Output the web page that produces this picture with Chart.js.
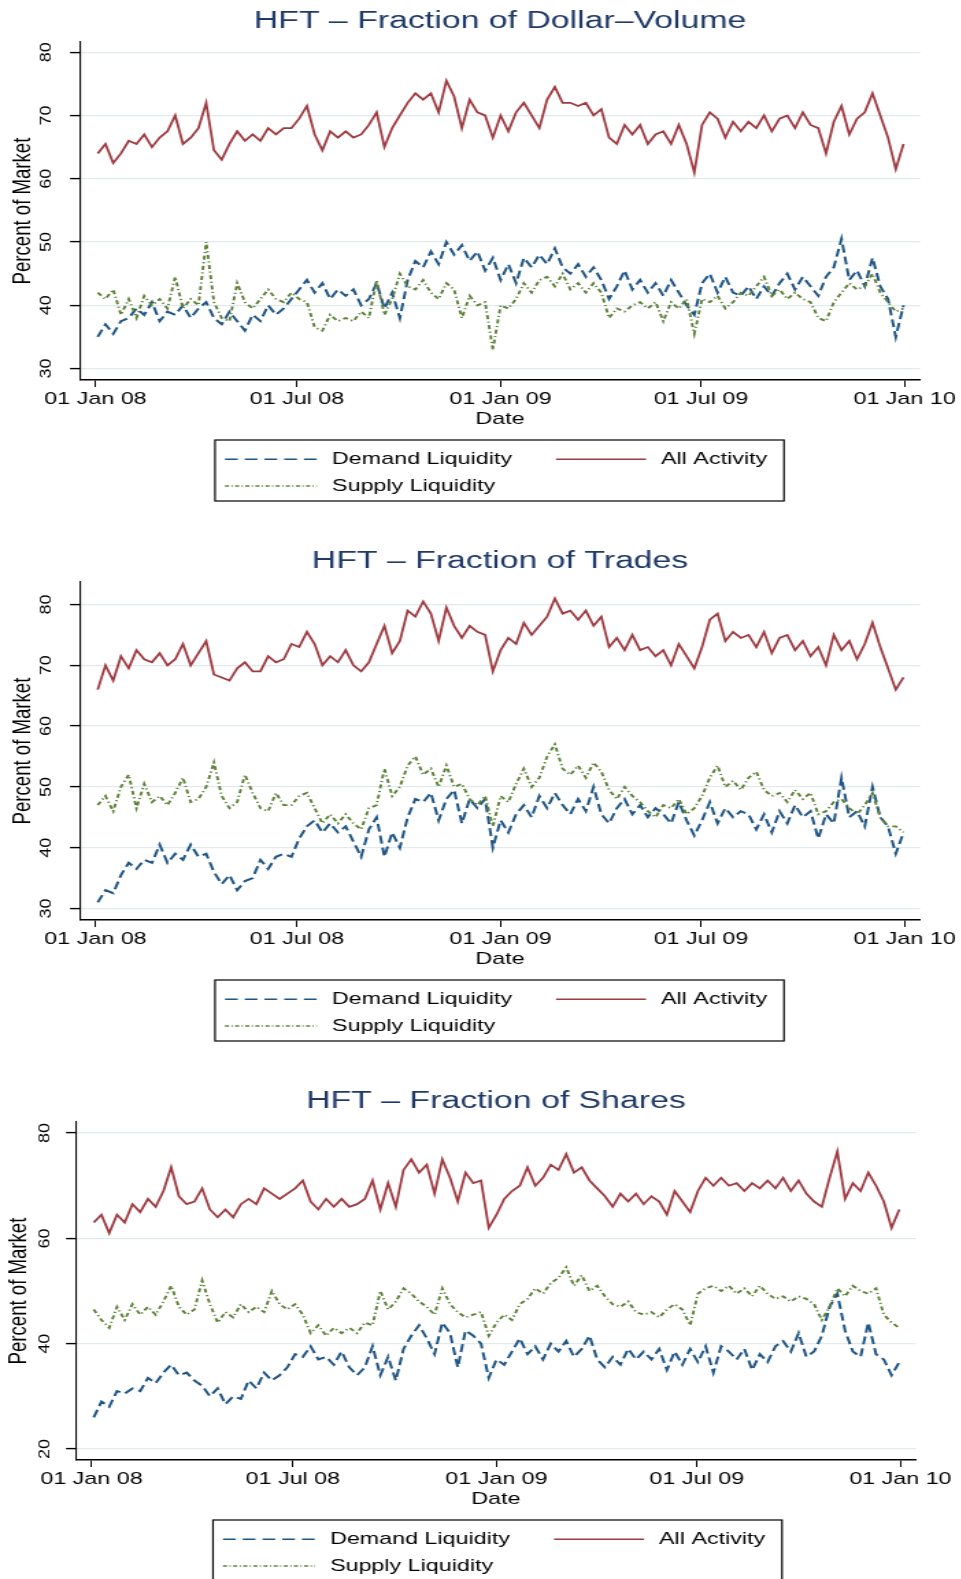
<!DOCTYPE html>
<html>
<head>
<meta charset="utf-8">
<title>HFT fractions</title>
<script src="https://cdn.jsdelivr.net/npm/chart.js@4.4.1/dist/chart.umd.min.js"></script>
<style>
  html, body { margin: 0; padding: 0; background: #fff; overflow: hidden; width: 961px; height: 1579px; }
  .panel { position: absolute; left: 0; transform-origin: 0 0; }
</style>
</head>
<body>
<div class="panel" id="wrap1"><canvas id="chart1"></canvas></div>
<div class="panel" id="wrap2"><canvas id="chart2"></canvas></div>
<div class="panel" id="wrap3"><canvas id="chart3"></canvas></div>
<script>
// Stata draws its text wide, so each panel is drawn narrow and stretched sideways by S
const S = 1.37;

// x axis: days counted from 01 Jan 2008
const X_TICK_DAYS = [0, 182, 366, 547, 731];
const X_TICK_LABELS = ['01 Jan 08', '01 Jul 08', '01 Jan 09', '01 Jul 09', '01 Jan 10'];

// one reading per week (day number since 01 Jan 2008)
const WEEK_DAYS = [2, 9, 16, 23, 30, 37, 44, 51, 58, 65, 72, 79, 86, 93, 100, 107, 114, 121, 128, 135,
  142, 149, 156, 163, 170, 177, 184, 191, 198, 205, 212, 219, 226, 233, 240, 247, 254, 261, 268, 275,
  282, 289, 296, 303, 310, 317, 324, 331, 338, 345, 352, 359, 366, 373, 380, 387, 394, 401, 408, 415,
  422, 429, 436, 443, 450, 457, 464, 471, 478, 485, 492, 499, 506, 513, 520, 527, 534, 541, 548, 555,
  562, 569, 576, 583, 590, 597, 604, 611, 618, 625, 632, 639, 646, 653, 660, 667, 674, 681, 688, 695,
  702, 709, 716, 723, 730];

const SERIES_LABELS = ['Demand Liquidity', 'All Activity', 'Supply Liquidity'];

// Panel 1: fraction of dollar-volume
const P1_TICKS = [30, 40, 50, 60, 70, 80];
const P1_ALL = [64, 65.5, 62.5, 64, 66, 65.5, 67, 65, 66.5, 67.5, 70, 65.5, 66.5, 68, 72, 64.5, 63, 65.5, 67.5, 66,
  67, 66, 68, 67, 68, 68, 69.5, 71.5, 67, 64.5, 67.5, 66.5, 67.5, 66.5, 67, 68.5, 70.5, 65, 68, 70,
  72, 73.5, 72.5, 73.5, 70.5, 75.5, 73, 68, 72.5, 70.5, 70, 66.5, 70, 67.5, 70.5, 72, 70, 68, 72.5, 74.5,
  72, 72, 71.5, 72, 70, 71, 66.5, 65.5, 68.5, 67, 68.5, 65.5, 67, 67.5, 65.5, 68.5, 65.5, 61, 68.5, 70.5,
  69.5, 66.5, 69, 67.5, 69, 68, 70, 67.5, 69.5, 70, 68, 70.5, 68.5, 68, 64, 69, 71.5, 67, 69.5, 70.5,
  73.5, 70, 66.5, 61.5, 65.5];
const P1_DEMAND = [35, 37, 35.5, 37.5, 38, 39.5, 38.5, 40.5, 37.5, 39, 38.5, 40, 38, 39.5, 40.5, 38, 37, 39, 37.5, 36,
  38.5, 37.5, 40, 38.5, 39.5, 41, 42.5, 44, 42, 43.5, 41, 42.5, 41.5, 42.5, 40, 41, 43.5, 39.5, 42, 38,
  44, 47, 46, 48.5, 46.5, 50, 48, 49.5, 47, 48.5, 45.5, 47.5, 44, 46.5, 43.5, 47.5, 46, 48, 46.5, 49,
  46, 45, 46.5, 44.5, 46, 44, 41, 43, 45.5, 42.5, 44, 42, 43.5, 41.5, 44, 42, 40, 38.5, 43.5, 45,
  42, 44.5, 42, 41.5, 43, 41, 43, 41.5, 43.5, 45, 42.5, 44.5, 43, 41.5, 44.5, 46, 50.5, 44, 45.5, 43,
  47.5, 43, 41, 35, 40];
const P1_SUPPLY = [42, 41, 42.5, 38.5, 41, 38, 41.5, 40, 41, 39.5, 44.5, 39.5, 41, 40, 50, 40.5, 38, 37.5, 43.5, 40.5,
  39.5, 41, 42.5, 41, 40.5, 42, 41, 40.5, 36.5, 36, 38.5, 37.5, 38, 37.5, 39, 38, 44, 38.5, 41, 45,
  43, 42.5, 44, 42, 41, 43.5, 42.5, 38, 41.5, 40, 40.5, 33, 40, 39.5, 41, 43.5, 42, 44, 44.5, 43,
  45, 42.5, 43.5, 42, 43.5, 42, 38, 39.5, 39, 40, 40.5, 39.5, 40.5, 37.5, 40.5, 39.5, 41, 35.5, 41, 40.5,
  41.5, 39.5, 40.5, 42, 41.5, 43, 44.5, 41.5, 42.5, 41, 42, 41, 40.5, 38, 37.5, 40.5, 42, 43.5, 42.5, 43,
  45, 42, 40.5, 39, 39.5];

// Panel 2: fraction of trades
const P2_TICKS = [30, 40, 50, 60, 70, 80];
const P2_ALL = [66, 70, 67.5, 71.5, 69.5, 72.5, 71, 70.5, 72, 70, 71, 73.5, 70, 72, 74, 68.5, 68, 67.5, 69.5, 70.5,
  69, 69, 71.5, 70.5, 71, 73.5, 73, 75.5, 73.5, 70, 71.5, 70.5, 72.5, 70, 69, 70.5, 73.5, 76.5, 72, 74,
  79, 78, 80.5, 78.5, 74, 79.5, 76.5, 74.5, 76.5, 75.5, 75, 69, 72.5, 74.5, 73.5, 77, 75, 76.5, 78, 81,
  78.5, 79, 77.5, 79, 76.5, 78, 73, 74.5, 72.5, 75, 72.5, 73, 71.5, 72.5, 70, 73.5, 71.5, 69.5, 73, 77.5,
  78.5, 74, 75.5, 74.5, 75, 73, 75.5, 72, 74.5, 75, 72.5, 74, 71.5, 73, 70, 75, 72.5, 74, 71, 73.5,
  77, 73, 69.5, 66, 68];
const P2_DEMAND = [31, 33, 32.5, 35.5, 37.5, 36.5, 38, 37.5, 40.5, 37.5, 39, 38, 40.5, 38.5, 39, 36, 34, 35.5, 33, 34.5,
  35, 38, 36.5, 38.5, 39, 38.5, 41.5, 43.5, 44.5, 42.5, 44, 42.5, 43.5, 41, 38.5, 43, 45, 38.5, 42.5, 40,
  45, 48, 47.5, 49, 44.5, 48, 49.5, 44, 48, 46.5, 48, 40, 44.5, 42.5, 45.5, 47, 45, 48.5, 46.5, 49,
  47, 45.5, 48, 46, 50, 45.5, 44, 46.5, 48, 45.5, 47, 45, 46.5, 45.5, 44, 47.5, 44.5, 42, 44.5, 47.5,
  44, 46.5, 45, 46, 45.5, 43, 45.5, 42.5, 46, 44, 47, 45, 46, 41.5, 45.5, 44, 51.5, 45, 46, 43.5,
  50, 45, 43.5, 39, 42.5];
const P2_SUPPLY = [47, 48.5, 46, 50, 52, 46.5, 50.5, 47.5, 48.5, 47, 49, 51.5, 47.5, 48, 50, 54, 48.5, 46.5, 47.5, 52,
  49, 46.5, 46, 49, 47, 47, 48.5, 49, 46.5, 44, 45.5, 44, 45.5, 44, 43, 46.5, 47, 53, 48.5, 50,
  53.5, 55, 52, 53, 50, 53.5, 50, 50.5, 48, 47, 48.5, 43.5, 48.5, 47.5, 50.5, 53, 50, 51.5, 55, 57,
  53, 52, 53.5, 51.5, 54, 52.5, 49.5, 48, 50, 48.5, 47.5, 46, 45, 47, 46.5, 48, 45.5, 46.5, 48.5, 51.5,
  53.5, 50, 51, 49.5, 51.5, 52.5, 49.5, 48.5, 49, 47.5, 49.5, 48, 49, 45.5, 46, 47.5, 48, 46.5, 45.5, 47,
  49, 45, 43.5, 43.5, 42.5];

// Panel 3: fraction of shares
const P3_TICKS = [20, 40, 60, 80];
const P3_ALL = [63, 64.5, 61, 64.5, 63, 66.5, 65, 67.5, 66, 69, 73.5, 68, 66.5, 67, 69.5, 65.5, 64, 65.5, 64, 66.5,
  67.5, 66.5, 69.5, 68.5, 67.5, 68.5, 69.5, 71, 67, 65.5, 67.5, 66, 67.5, 66, 66.5, 67.5, 71, 65.5, 70.5, 66,
  73, 75, 72.5, 74, 68.5, 75, 71.5, 67, 72.5, 70.5, 71, 62, 64.5, 67.5, 69, 70, 73.5, 70, 71.5, 74,
  73, 76, 72.5, 73.5, 71, 69.5, 68, 66, 68.5, 67, 68.5, 66.5, 68, 67, 64.5, 69, 67, 65, 69, 71.5,
  70, 71.5, 70, 70.5, 69, 70.5, 69.5, 71, 69.5, 71.5, 69, 71, 68.5, 67, 66, 71.5, 76.5, 67.5, 70.5, 69,
  72.5, 70, 67, 62, 65.5];
const P3_DEMAND = [26, 29, 28, 31, 30.5, 31.5, 31, 33.5, 32.5, 34.5, 36, 34, 34.5, 33, 32, 30, 31.5, 28.5, 30, 29.5,
  33, 31.5, 34.5, 33, 34, 35.5, 38, 37.5, 39.5, 37, 37.5, 36, 38.5, 35.5, 34, 35.5, 39.5, 34, 37.5, 33,
  39, 41.5, 43.5, 41, 38, 44, 42, 35.5, 42.5, 41.5, 40, 33.5, 37, 36, 38.5, 41, 38, 39.5, 37, 40,
  38.5, 40.5, 37.5, 39, 41.5, 37, 35.5, 37.5, 36, 39, 37, 38.5, 37, 39, 35, 38.5, 36, 39, 36.5, 39.5,
  34.5, 39.5, 38.5, 37, 39, 35, 38, 36.5, 39.5, 40.5, 38.5, 42, 37.5, 38.5, 41.5, 47, 49.5, 42.5, 38.5, 37.5,
  44, 38, 37, 34, 36.5];
const P3_SUPPLY = [46.5, 44.5, 43, 47, 44.5, 47.5, 45.5, 47, 45.5, 48, 51, 47, 45.5, 46.5, 52, 47.5, 44, 46, 45, 47.5,
  46, 47, 46, 50, 47.5, 46.5, 47.5, 45.5, 42, 43.5, 41.5, 43, 42, 43, 42, 44, 43.5, 50, 46.5, 48,
  50.5, 49.5, 48, 47, 45.5, 50.5, 47.5, 46, 45, 45.5, 46, 41.5, 44, 45.5, 44.5, 47.5, 48.5, 50.5, 49.5, 51.5,
  52.5, 54.5, 51, 53, 50, 51, 49, 47.5, 47, 48, 46, 45.5, 46, 45, 46.5, 47.5, 46.5, 43.5, 49.5, 50.5,
  51, 50, 51, 49.5, 50.5, 49, 51, 49.5, 48.5, 49, 48, 49, 48.5, 47.5, 44.5, 47, 50.5, 49, 51, 50,
  49.5, 50.5, 45.5, 44, 43];

const FONT = '"Liberation Sans", Arial, Helvetica, sans-serif';
const BLUE = '#1e5585';
const RED = '#9e3a40';
const GREEN = '#5b8135';
const TITLE_COLOR = '#1f3a68';
const GRID_COLOR = '#e1ebee';

Chart.defaults.font.family = FONT;
Chart.defaults.color = '#000';

// legend layout in page pixels, measured from the left edge of the legend box
const LEGEND_SLOTS = [
  { ds: 0, from: 10, to: 102, text: 117, row: 0 },
  { ds: 1, from: 341, to: 431, text: 446, row: 0 },
  { ds: 2, from: 10, to: 102, text: 117, row: 1 }
];
const LEGEND_ROWS = [19.3, 46];

// rotated y tick labels and the boxed legend
const stataDecor = {
  id: 'stataDecor',
  afterDraw(chart, args, opts) {
    const { ctx, chartArea } = chart;
    const yScale = chart.scales.y;
    ctx.save();
    ctx.fillStyle = '#000';
    ctx.font = '18px ' + FONT;
    ctx.textAlign = 'center';
    ctx.textBaseline = 'middle';
    yScale.ticks.forEach(t => {
      ctx.save();
      ctx.translate(opts.yLabelX / S, yScale.getPixelForValue(t.value));
      ctx.scale(0.64, 1);
      ctx.rotate(-Math.PI / 2);
      ctx.fillText(String(t.value), 0, 0);
      ctx.restore();
    });

    const top = chartArea.bottom + 60;
    const left = opts.legendLeft;
    ctx.strokeStyle = '#000';
    ctx.lineWidth = 1.2;
    ctx.strokeRect(left / S, top, 569 / S, 61);

    ctx.font = '17px ' + FONT;
    ctx.textAlign = 'left';
    LEGEND_SLOTS.forEach(slot => {
      const ds = chart.data.datasets[slot.ds];
      const y = top + LEGEND_ROWS[slot.row];
      ctx.save();
      ctx.strokeStyle = ds.borderColor;
      ctx.lineWidth = 1.6;
      ctx.setLineDash(ds.legendDash);
      ctx.beginPath();
      ctx.moveTo((left + slot.from) / S, y);
      ctx.lineTo((left + slot.to) / S, y);
      ctx.stroke();
      ctx.restore();
      ctx.fillText(ds.label, (left + slot.text) / S, y);
    });
    ctx.restore();
  }
};

const panels = [
  { wrap: 'wrap1', canvas: 'chart1', top: 0, height: 540, title: 'HFT – Fraction of Dollar–Volume',
    plotLeft: 80, plotRight: 920, yMin: 28.2, yMax: 81.6, yTicks: P1_TICKS,
    demand: P1_DEMAND, all: P1_ALL, supply: P1_SUPPLY, yLabelX: 45.7, yTitleX: 22.8, legendLeft: 215 },
  { wrap: 'wrap2', canvas: 'chart2', top: 540, height: 540, title: 'HFT – Fraction of Trades',
    plotLeft: 80, plotRight: 920, yMin: 28.1, yMax: 83.7, yTicks: P2_TICKS,
    demand: P2_DEMAND, all: P2_ALL, supply: P2_SUPPLY, yLabelX: 45.7, yTitleX: 22.8, legendLeft: 215 },
  { wrap: 'wrap3', canvas: 'chart3', top: 1080, height: 499, title: 'HFT – Fraction of Shares',
    plotLeft: 76, plotRight: 916, yMin: 17.9, yMax: 82.1, yTicks: P3_TICKS,
    demand: P3_DEMAND, all: P3_ALL, supply: P3_SUPPLY, yLabelX: 44.7, yTitleX: 18.8, legendLeft: 213 }
];

function toPoints(values) {
  return WEEK_DAYS.map((d, i) => ({ x: d, y: values[i] }));
}

function buildPanel(p) {
  const width = Math.round((p.plotLeft + p.plotRight) / S);
  const wrap = document.getElementById(p.wrap);
  wrap.style.top = p.top + 'px';
  wrap.style.width = width + 'px';
  wrap.style.height = p.height + 'px';
  wrap.style.transform = 'scaleX(' + S + ')';
  const axisWidth = p.plotLeft / S;

  return new Chart(document.getElementById(p.canvas), {
    type: 'line',
    data: {
      datasets: [
        { label: SERIES_LABELS[0], data: toPoints(p.demand), borderColor: BLUE, borderWidth: 2,
          borderDash: [8, 4], legendDash: [9.3, 5.1], order: 2 },
        { label: SERIES_LABELS[1], data: toPoints(p.all), borderColor: RED, borderWidth: 1.8,
          legendDash: [], order: 1 },
        { label: SERIES_LABELS[2], data: toPoints(p.supply), borderColor: GREEN, borderWidth: 1.9,
          borderDash: [4, 2.5, 1.2, 2.5], legendDash: [2.9, 1.8, 0.9, 1.8], order: 0 }
      ]
    },
    options: {
      responsive: true,
      maintainAspectRatio: false,
      animation: false,
      events: [],
      elements: { point: { radius: 0 }, line: { tension: 0, fill: false } },
      layout: { padding: { left: 0, right: 0, top: 0, bottom: p.height - 430 } },
      plugins: {
        legend: { display: false },
        tooltip: { enabled: false },
        title: {
          display: true, text: p.title, color: TITLE_COLOR,
          font: { size: 24.7, weight: 'normal' }, padding: { top: 6.2, bottom: 6.2 }
        },
        stataDecor: { yLabelX: p.yLabelX, legendLeft: p.legendLeft }
      },
      scales: {
        x: {
          type: 'linear', min: -14, max: 745,
          afterBuildTicks: s => { s.ticks = X_TICK_DAYS.map(v => ({ value: v })); },
          afterFit: s => { s.height = 50; },
          ticks: {
            autoSkip: false, maxRotation: 0, padding: 2, color: '#000', font: { size: 17 },
            callback: (v, i) => X_TICK_LABELS[i]
          },
          grid: { drawOnChartArea: false, drawTicks: true, tickLength: 7, tickColor: '#000', tickWidth: 1 },
          border: { display: true, color: '#000', width: 1.5 },
          title: { display: true, text: 'Date', color: '#000', font: { size: 17 }, padding: 0 }
        },
        y: {
          type: 'linear', position: 'left', min: p.yMin, max: p.yMax,
          afterBuildTicks: s => { s.ticks = p.yTicks.map(v => ({ value: v })); },
          afterFit: s => { s.width = axisWidth; },
          ticks: { display: false },
          grid: { color: GRID_COLOR, lineWidth: 1.2, drawTicks: true, tickLength: 10 / S, tickColor: '#000', tickWidth: 1.4 },
          border: { display: true, color: '#000', width: 1.5 / S },
          title: {
            display: true, text: 'Percent of Market', color: '#000', font: { size: 18.6 },
            padding: { top: p.yTitleX / S - 11.16, bottom: 0 }
          }
        },
        // empty axis on the right keeps the plot centred under the title
        yRight: {
          type: 'linear', position: 'right', display: true,
          afterFit: s => { s.width = axisWidth; },
          ticks: { display: false },
          grid: { display: false, drawTicks: false },
          border: { display: false }
        }
      }
    },
    plugins: [stataDecor]
  });
}

panels.forEach(buildPanel);
</script>
</body>
</html>
